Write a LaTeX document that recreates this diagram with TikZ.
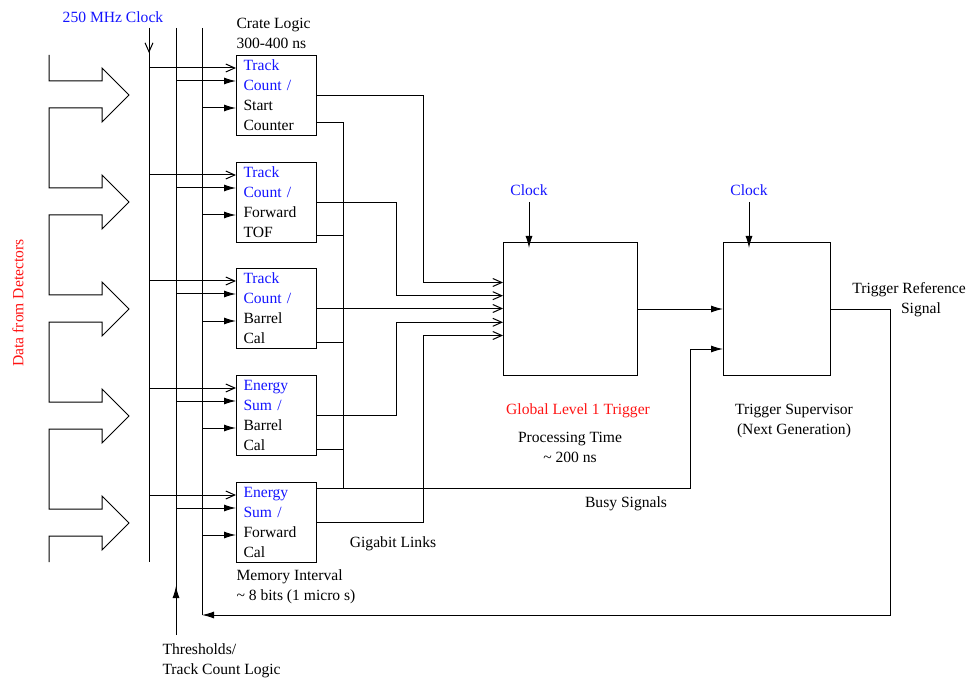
\documentclass[tikz,border=0pt]{standalone}
\usepackage{fontspec}
\setmainfont{Liberation Serif}
\usetikzlibrary{calc,arrows.meta}
\definecolor{sigBlue}{HTML}{1414FF}
\definecolor{sigRed}{HTML}{FF1414}

\begin{document}
\begin{tikzpicture}[x=1pt,y=-1pt,line width=1pt,
          crate/.style={draw, anchor=north west, minimum width=80pt, minimum height=80pt,
                        inner xsep=7pt, inner ysep=0pt, text width=66pt, align=left,
                        font=\fontsize{15.6}{20}\selectfont},
          trig/.style={draw, anchor=north west, minimum height=133pt},
          lbl/.style={inner sep=0pt, font=\fontsize{15.6}{20}\selectfont},
          fil/.style={-{Latex[length=12pt,width=7pt]}},
          opn/.style={-{Straight Barb[length=9pt,width=8pt]}},
          every node/.style={align=center}]
        \useasboundingbox (0,0) rectangle (967,679);

        % data arrows on the left
        \draw (49,55) \foreach \y in {95,202,309,416,523}{
              -- (49,\y-14) -- (102,\y-14) -- (102,\y-27) -- (129,\y)
              -- (102,\y+27) -- (102,\y+13) -- (49,\y+13)} -- (49,562);
        \node[lbl, rotate=90, text=sigRed] (data) at (18,303) {Data from Detectors};

        % bus lines
        \coordinate (clk0) at (149,28);  \coordinate (clk1) at (149,562);
        \coordinate (thr0) at (176,28);  \coordinate (thr1) at (176,635);
        \coordinate (fb0)  at (202,28);  \coordinate (fb1)  at (202,615);
        \coordinate (clkA) at (149,53);  \coordinate (thrA) at (176,586);
        \draw (clk0) -- (clk1);
        \draw (thr0) -- (thr1);
        \draw (fb0) -- (fb1);
        \draw[opn] (clk0) -- (clkA);
        \draw[fil] (thr1) -- (thrA);
        \node[lbl, text=sigBlue] (mhz) at (113,17) {250 MHz Clock};
        \node[lbl, anchor=west, align=left] (thr) at (162,661) {Thresholds/\\Track Count Logic};

        % crate logic
        \node[lbl, anchor=west, align=left] (crate) at (236,33) {Crate Logic\\300-400 ns};
        \node[crate] (c1) at (236,55)  {\textcolor{sigBlue}{Track}\\\textcolor{sigBlue}{Count /}\\Start\\Counter};
        \node[crate] (c2) at (236,162) {\textcolor{sigBlue}{Track}\\\textcolor{sigBlue}{Count /}\\Forward\\TOF};
        \node[crate] (c3) at (236,268) {\textcolor{sigBlue}{Track}\\\textcolor{sigBlue}{Count /}\\Barrel\\Cal};
        \node[crate] (c4) at (236,375) {\textcolor{sigBlue}{Energy}\\\textcolor{sigBlue}{Sum /}\\Barrel\\Cal};
        \node[crate] (c5) at (236,482) {\textcolor{sigBlue}{Energy}\\\textcolor{sigBlue}{Sum /}\\Forward\\Cal};
        \node[lbl, anchor=west, align=left] (mem) at (236,587) {Memory Interval\\\textasciitilde{} 8 bits (1 micro s)};

        \foreach \i in {1,...,5}{
          \coordinate (p) at ($(c\i.north west)+(0,13)$);
          \coordinate (q) at ($(c\i.north west)+(0,26)$);
          \coordinate (r) at ($(c\i.north west)+(0,53)$);
          \draw[opn] (clk0 |- p) -- (p);
          \draw[fil] (thr0 |- q) -- (q);
          \draw[fil] (fb0 |- r) -- (r);
        }

        % global level 1 trigger and supervisor
        \node[trig, minimum width=134pt] (gl) at (503,242) {};
        \node[trig, minimum width=107pt] (ts) at (723,242) {};
        \node[lbl, text=sigBlue] (ck1) at (529,190) {Clock};
        \node[lbl, text=sigBlue] (ck2) at (749,190) {Clock};
        \draw[fil] ([yshift=-6pt]ck1.south) -- ([yshift=-6pt]ck1.south |- gl.north);
        \draw[fil] ([yshift=-6pt]ck2.south) -- ([yshift=-6pt]ck2.south |- ts.north);
        \node[lbl, text=sigRed] (glname) at (578,411) {Global Level 1 Trigger};
        \node[lbl] (proc) at (570,447) {Processing Time\\\textasciitilde{} 200 ns};
        \node[lbl] (tsname) at (794,421) {Trigger Supervisor\\(Next Generation)};
        \node[lbl] (tref) at (909,300) {Trigger Reference\\\hspace*{24pt}Signal};

        % gigabit links
        \coordinate (lnkA) at (423,0);
        \coordinate (lnkB) at (396,0);
        \coordinate (g1) at ($(gl.west)+(0,-26.5)$);
        \coordinate (g2) at ($(gl.west)+(0,-13.3)$);
        \coordinate (g4) at ($(gl.west)+(0,13.3)$);
        \coordinate (g5) at ($(gl.west)+(0,26.5)$);
        \draw[opn] (c1.east) -| (lnkA |- g1) -- (g1);
        \draw[opn] (c2.east) -| (lnkB |- g2) -- (g2);
        \draw[opn] (c3.east) -- (c3.east -| gl.west);
        \draw[opn] (c4.east) -| (lnkB |- g4) -- (g4);
        \draw[opn] (c5.east) -| (lnkA |- g5) -- (g5);
        \node[lbl] (giga) at (393,544) {Gigabit Links};

        % busy signals
        \coordinate (bus) at (343,0);
        \coordinate (b1) at ($(c1.south east)+(0,-13)$);
        \coordinate (b2) at ($(c2.south east)+(0,-7)$);
        \coordinate (b3) at ($(c3.south east)+(0,-7)$);
        \coordinate (b4) at ($(c4.south east)+(0,-7)$);
        \coordinate (b5) at ($(c5.north east)+(0,6)$);
        \coordinate (tsb) at ($(ts.west)+(0,40)$);
        \coordinate (busR) at ($(tsb)+(-33,0)$);
        \draw (b1) -| (bus |- b5);
        \draw (b2) -- (bus |- b2);
        \draw (b3) -- (bus |- b3);
        \draw (b4) -- (bus |- b4);
        \draw[fil] (b5) -| (busR) -- (tsb);
        \node[lbl] (busy) at (626,504) {Busy Signals};

        % trigger chain and feedback
        \coordinate (fbR) at (890,615);
        \draw[fil] (gl.east) -- (ts.west);
        \draw[fil] (ts.east) -| (fbR) -- (fb1);
      \end{tikzpicture}
\end{document}
